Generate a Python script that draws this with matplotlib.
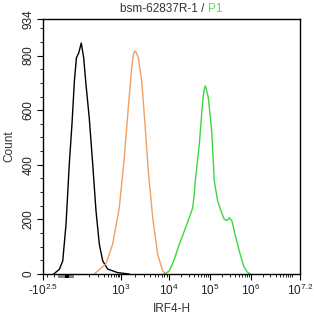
import numpy as np
import matplotlib
matplotlib.use("Agg")
import matplotlib.pyplot as plt
from matplotlib.patches import Rectangle

plt.rcParams['font.family'] = ['Liberation Sans', 'DejaVu Sans']
plt.rcParams['mathtext.fontset'] = 'custom'
plt.rcParams['mathtext.rm'] = 'Liberation Sans'
plt.rcParams['mathtext.it'] = 'Liberation Sans'

# histogramas (intensidad IRF4-H, cuenta)
x_control = [-101, -50, -28, -10, 4.5, 14, 23, 31, 41, 53, 66, 80, 104, 135,
             172, 218, 278, 395, 794, 1468]
y_control = [0, 17, 48, 183, 403, 549, 707, 792, 810, 846, 792, 696, 572, 403,
             231, 110, 48, 18, 5, 0]

x_iso = [152, 350, 560, 888, 1171, 1419, 1671, 1820, 1957, 2100, 2293, 2700,
         3162, 3705, 4575, 5815, 7390, 8660]
y_iso = [0, 37, 110, 243, 426, 609, 756, 805, 817, 810, 792, 707, 549, 377,
         206, 72, 11, 0]

x_p1 = [7980, 10170, 13470, 17830, 23610, 31270, 37850, 41400, 43800, 54830,
        66370, 72000, 76800, 82000, 90900, 110000, 127300, 154100, 185500,
        223300, 259800, 295600, 344000, 407000, 518000, 663700, 799000, 961000]
y_p1 = [0, 11, 54, 109, 157, 206, 243, 292, 341, 475, 634, 675, 689, 675, 646,
        524, 341, 267, 231, 200, 196, 206, 194, 145, 84, 29, 8, 0]

xtick_vals = [-10**2.5, 1e3, 1e4, 1e5, 1e6, 10**7.2]
xtick_labels = ['-10$^{2.5}$', '10$^{3}$', '10$^{4}$', '10$^{5}$', '10$^{6}$', '10$^{7.2}$']
ytick_vals = [0, 200, 400, 600, 800, 934]

# escala tipo biexponencial
C = 50.0
U_ref = np.arcsinh(np.array([-10**2.5, 0, 1e3, 1e4, 1e5, 1e6, 10**7.2]) / C)
P_ref = np.array([42, 67, 120, 168, 209, 250, 299], dtype=float)


def forward(x):
    x = np.asarray(x, dtype=float)
    return np.interp(np.arcsinh(x / C), U_ref, P_ref)


def inverse(p):
    p = np.asarray(p, dtype=float)
    return C * np.sinh(np.interp(p, P_ref, U_ref))


fig = plt.figure(figsize=(3.14, 3.17), dpi=100)
ax = fig.add_axes([43 / 314, 43 / 317, 257 / 314, 255 / 317])
ax.set_xscale('function', functions=(forward, inverse))

ax.plot(x_control, y_control, color='black', lw=1.0)
ax.plot(x_iso, y_iso, color='#EFA064', lw=1.0)
ax.plot(x_p1, y_p1, color='#3ED63E', lw=1.0)

ax.set_xlim(-10**2.5, 10**7.2)
ax.set_ylim(0, 934)

ax.set_xticks(xtick_vals)
ax.set_xticklabels(xtick_labels, fontsize=8.5)
minors = [-200, -100, 100, 200, 300, 400, 500, 600, 700, 800, 900]
for d in [1e3, 1e4, 1e5, 1e6]:
    minors += [k * d for k in range(2, 10)]
minors += [1e7]
ax.set_xticks(minors, minor=True)

ax.set_yticks(ytick_vals)
ax.set_yticklabels([str(v) for v in ytick_vals], fontsize=8.5, rotation=90, va='center')
ax.set_yticks(np.arange(50, 934, 50), minor=True)

ax.tick_params(which='major', direction='out', length=4, width=0.8, color='black', labelcolor='#222222', pad=2)
ax.tick_params(which='minor', direction='out', length=2, width=0.6, color='black')
for s in ax.spines.values():
    s.set_linewidth(1.0)

ax.set_ylabel('Count', fontsize=8.5, color='#333333', labelpad=5)
ax.set_xlabel('IRF4-H', fontsize=8.5, color='#333333', labelpad=4)

# barra gris bajo el eje
ax.add_patch(Rectangle((0.058, -0.016), 0.063, 0.016, transform=ax.transAxes,
                       facecolor='#888888', edgecolor='none', clip_on=False))
ax.add_patch(Rectangle((0.086, -0.016), 0.014, 0.016, transform=ax.transAxes,
                       facecolor='black', edgecolor='none', clip_on=False))

# titulo en dos colores
fig.canvas.draw()
r = fig.canvas.get_renderer()
t1 = fig.text(0, 1 - 9 / 317, 'bsm-62837R-1 / ', fontsize=8.5, color='#333333', va='center', ha='left')
t2 = fig.text(0, 1 - 9 / 317, 'P1', fontsize=8.5, color='#55DD55', va='center', ha='left')
w1 = t1.get_window_extent(r).width
w2 = t2.get_window_extent(r).width
x0 = 171 - (w1 + w2) / 2
t1.set_x(x0 / 314)
t2.set_x((x0 + w1) / 314)

fig.savefig('out.png', dpi=100)
